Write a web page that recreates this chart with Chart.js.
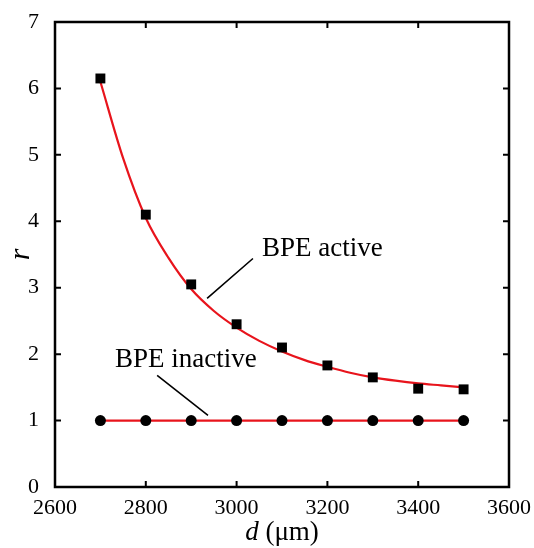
<!DOCTYPE html>
<html>
<head>
<meta charset="utf-8">
<script src="https://cdn.jsdelivr.net/npm/chart.js@4.4.0/dist/chart.umd.min.js"></script>
<style>
html, body { margin: 0; padding: 0; background: #fff; }
#wrap { width: 534px; height: 548px; }
</style>
</head>
<body>
<div id="wrap"><canvas id="chart"></canvas></div>
<script>
// measured points
const distances = [2700, 2800, 2900, 3000, 3100, 3200, 3300, 3400, 3500];
const activeR = [6.15, 4.10, 3.05, 2.45, 2.10, 1.83, 1.65, 1.48, 1.47];
const inactiveR = [1, 1, 1, 1, 1, 1, 1, 1, 1];
// fitted curve
const fitD = [2700, 2750, 2800, 2850, 2900, 2950, 3000, 3050, 3100, 3150, 3200, 3250, 3300, 3350, 3400, 3450, 3500];
const fitR = [6.10, 4.95, 4.05, 3.45, 2.98, 2.65, 2.40, 2.20, 2.04, 1.91, 1.81, 1.72, 1.65, 1.60, 1.56, 1.53, 1.50];

const serif = '"Liberation Serif", "Times New Roman", serif';

function pts(xs, ys) {
    return xs.map((x, i) => ({x: x, y: ys[i]}));
}

// frame, inward ticks, axis titles and labels
const decor = {
    id: 'decor',
    afterDraw(chart) {
        let ctx = chart.ctx;
        let a = chart.chartArea;
        let xs = chart.scales.x, ys = chart.scales.y;
        ctx.save();
        ctx.strokeStyle = '#000';
        ctx.lineWidth = 2;
        xs.ticks.forEach(t => {
            let px = xs.getPixelForValue(t.value);
            ctx.beginPath();
            ctx.moveTo(px, a.bottom); ctx.lineTo(px, a.bottom - 6);
            ctx.moveTo(px, a.top); ctx.lineTo(px, a.top + 6);
            ctx.stroke();
        });
        ys.ticks.forEach(t => {
            let py = ys.getPixelForValue(t.value);
            ctx.beginPath();
            ctx.moveTo(a.left, py); ctx.lineTo(a.left + 6, py);
            ctx.moveTo(a.right, py); ctx.lineTo(a.right - 6, py);
            ctx.stroke();
        });
        ctx.lineWidth = 2.5;
        ctx.strokeRect(a.left, a.top, a.right - a.left, a.bottom - a.top);

        // leader lines
        ctx.lineWidth = 1.6;
        ctx.beginPath();
        ctx.moveTo(xs.getPixelForValue(3036), ys.getPixelForValue(3.44));
        ctx.lineTo(xs.getPixelForValue(2935), ys.getPixelForValue(2.84));
        ctx.moveTo(xs.getPixelForValue(2825), ys.getPixelForValue(1.68));
        ctx.lineTo(xs.getPixelForValue(2937), ys.getPixelForValue(1.08));
        ctx.stroke();

        ctx.fillStyle = '#000';
        ctx.font = '27px ' + serif;
        ctx.textAlign = 'left';
        ctx.textBaseline = 'middle';
        ctx.fillText('BPE active', xs.getPixelForValue(3056), ys.getPixelForValue(3.59));
        ctx.fillText('BPE inactive', xs.getPixelForValue(2732), ys.getPixelForValue(1.92));

        // x title: italic d + (μm)
        ctx.textBaseline = 'alphabetic';
        let italic = 'italic 27px ' + serif;
        let normal = '27px ' + serif;
        ctx.font = italic;
        let w1 = ctx.measureText('d').width;
        ctx.font = normal;
        let w2 = ctx.measureText(' (μm)').width;
        let cx = (a.left + a.right) / 2;
        let start = cx - (w1 + w2) / 2;
        ctx.font = italic;
        ctx.fillText('d', start, 540);
        ctx.font = normal;
        ctx.fillText(' (μm)', start + w1, 540);

        // y title
        ctx.translate(21, (a.top + a.bottom) / 2);
        ctx.rotate(-Math.PI / 2);
        ctx.font = 'italic 30px ' + serif;
        ctx.textAlign = 'center';
        ctx.textBaseline = 'middle';
        ctx.fillText('r', 0, 0);
        ctx.restore();
    }
};

let data = {
    datasets: [{
        label: 'BPE active fit',
        data: pts(fitD, fitR),
        showLine: true,
        borderColor: '#e8141c',
        borderWidth: 2.2,
        pointRadius: 0,
        cubicInterpolationMode: 'monotone',
        order: 2
    }, {
        label: 'BPE active',
        data: pts(distances, activeR),
        showLine: false,
        pointStyle: 'rect',
        pointRadius: 7,
        backgroundColor: '#000',
        borderColor: '#000',
        borderWidth: 0,
        order: 0
    }, {
        label: 'BPE inactive',
        data: pts(distances, inactiveR),
        showLine: true,
        borderColor: '#e8141c',
        borderWidth: 2.2,
        pointStyle: 'circle',
        pointRadius: 5.5,
        pointBackgroundColor: '#000',
        pointBorderColor: '#000',
        pointBorderWidth: 0,
        order: 1
    }]
};

let config = {
    type: 'scatter',
    data: data,
    options: {
        responsive: true,
        maintainAspectRatio: false,
        animation: false,
        layout: {padding: {top: 22, right: 25, left: 0, bottom: 0}},
        plugins: {
            legend: {display: false},
            tooltip: {enabled: false}
        },
        scales: {
            x: {
                type: 'linear',
                min: 2600,
                max: 3600,
                grid: {display: false},
                border: {display: false},
                ticks: {
                    stepSize: 200, color: '#000', font: {family: serif, size: 22}, padding: 0, maxRotation: 0,
                    callback: v => String(v)
                },
                afterFit(s) { s.height = 61; s.paddingLeft = 0; s.paddingRight = 0; }
            },
            y: {
                min: 0,
                max: 7,
                grid: {display: false},
                border: {display: false},
                ticks: {stepSize: 1, color: '#000', font: {family: serif, size: 22}, padding: 8},
                afterFit(s) { s.width = 55; s.paddingTop = 0; s.paddingBottom = 0; }
            }
        }
    },
    plugins: [decor]
};

new Chart(document.getElementById('chart'), config);
</script>
</body>
</html>
